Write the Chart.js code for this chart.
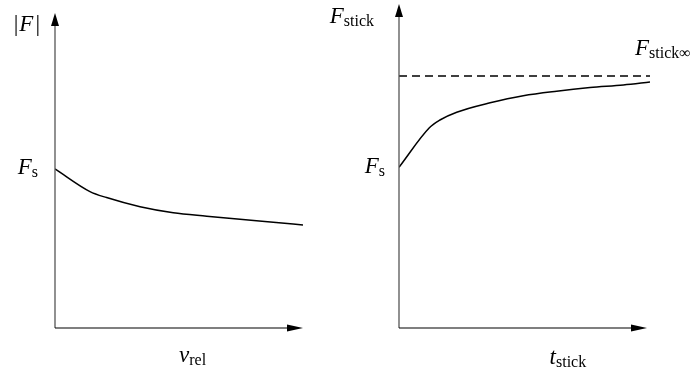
<!DOCTYPE html>
<html>
<head>
<meta charset="utf-8">
<script src="https://cdn.jsdelivr.net/npm/chart.js@4"></script>
<style>
    html, body { margin: 0; padding: 0; background: #fff; }
    #wrap { position: relative; width: 694px; height: 372px; overflow: hidden; }
    canvas { position: absolute; top: 0; }
</style>
</head>
<body>
<div id="wrap">
    <canvas id="frictionChart" width="320" height="372" style="left:0"></canvas>
    <canvas id="stickChart" width="374" height="372" style="left:320px"></canvas>
</div>
<script>
// left panel: |F| against v_rel (schematic units 0..10)
const velX = [0, 1.41, 2.08, 3.43, 4.77, 6.12, 7.46, 8.8, 10];
const forceY = [5.05, 4.33, 4.14, 3.85, 3.66, 3.55, 3.45, 3.36, 3.27];

// right panel: F_stick against t_stick
const stickT = [0, 1.21, 1.63, 2.3, 3.63, 4.95, 6.28, 7.61, 8.94, 10];
const stickF = [4.96, 6.18, 6.42, 6.66, 6.95, 7.17, 7.31, 7.42, 7.5, 7.59];
const stickInfT = [0, 10];
const stickInf = 7.78;

const SERIF = '"Liberation Serif", "Times New Roman", serif';

// draws something like F_s : italic main letter, upright subscript
function drawSym(ctx, parts, x, y, align) {
    const fontOf = p => p.sub ? `16px ${SERIF}` : `${p.italic ? 'italic ' : ''}23px ${SERIF}`;
    let total = 0;
    parts.forEach(p => { ctx.font = fontOf(p); total += ctx.measureText(p.t).width + (p.gap || 0); });
    let cx = align === 'right' ? x - total : x;
    ctx.fillStyle = '#000';
    ctx.textBaseline = 'alphabetic';
    ctx.textAlign = 'left';
    parts.forEach(p => {
        ctx.font = fontOf(p);
        ctx.fillText(p.t, cx, y + (p.sub ? 3 : 0));
        cx += ctx.measureText(p.t).width + (p.gap || 0);
    });
}

function makeAxesPlugin(id, tipInset, drawLabels) {
    return {
        id: id,
        afterDraw(chart) {
            const ctx = chart.ctx;
            const a = chart.chartArea;
            ctx.save();
            // vertical axis with arrow
            ctx.strokeStyle = '#555';
            ctx.lineWidth = 1.3;
            ctx.beginPath();
            ctx.moveTo(a.left, a.bottom);
            ctx.lineTo(a.left, a.top + 8);
            ctx.stroke();
            ctx.fillStyle = '#000';
            ctx.beginPath();
            ctx.moveTo(a.left, a.top);
            ctx.lineTo(a.left - 4, a.top + 13);
            ctx.lineTo(a.left + 4, a.top + 13);
            ctx.closePath();
            ctx.fill();
            // horizontal axis with arrow
            const tip = a.right - tipInset;
            ctx.strokeStyle = '#000';
            ctx.lineWidth = 1.2;
            ctx.beginPath();
            ctx.moveTo(a.left, a.bottom);
            ctx.lineTo(tip - 10, a.bottom);
            ctx.stroke();
            ctx.beginPath();
            ctx.moveTo(tip, a.bottom);
            ctx.lineTo(tip - 16, a.bottom - 3.5);
            ctx.lineTo(tip - 16, a.bottom + 3.5);
            ctx.closePath();
            ctx.fill();
            drawLabels(chart, ctx, a);
            ctx.restore();
        }
    };
}

function baseOptions(padding) {
    return {
        responsive: false,
        animation: false,
        events: [],
        layout: { padding: padding },
        scales: {
            x: { type: 'linear', min: 0, max: 10, display: false },
            y: { type: 'linear', min: 0, max: 10, display: false }
        },
        plugins: { legend: { display: false }, tooltip: { enabled: false } }
    };
}

const curveStyle = {
    borderColor: '#000',
    borderWidth: 1.5,
    pointRadius: 0,
    cubicInterpolationMode: 'monotone',
    fill: false
};

new Chart(document.getElementById('frictionChart'), {
    type: 'line',
    data: {
        datasets: [{
            ...curveStyle,
            data: velX.map((v, i) => ({ x: v, y: forceY[i] }))
        }]
    },
    options: baseOptions({ left: 55, right: 17, top: 13, bottom: 44 }),
    plugins: [makeAxesPlugin('frictionAxes', 0, (chart, ctx, a) => {
        const y = chart.scales.y;
        drawSym(ctx, [{ t: '|', gap: 1 }, { t: 'F', italic: true, gap: 2 }, { t: '|' }], a.left - 15, a.top + 18, 'right');
        drawSym(ctx, [{ t: 'F', italic: true }, { t: 's', sub: true }], a.left - 17, y.getPixelForValue(forceY[0]) + 5, 'right');
        drawSym(ctx, [{ t: 'v', italic: true }, { t: 'rel', sub: true }], a.left + 0.5 * (a.right - a.left), a.bottom + 34, 'left');
    })]
});

new Chart(document.getElementById('stickChart'), {
    type: 'line',
    data: {
        datasets: [{
            ...curveStyle,
            data: stickT.map((t, i) => ({ x: t, y: stickF[i] }))
        }, {
            borderColor: '#000',
            borderWidth: 1.4,
            borderDash: [8, 5],
            pointRadius: 0,
            fill: false,
            data: stickInfT.map(t => ({ x: t, y: stickInf }))
        }]
    },
    options: baseOptions({ left: 79, right: 44, top: 4, bottom: 44 }),
    plugins: [makeAxesPlugin('stickAxes', 3, (chart, ctx, a) => {
        const y = chart.scales.y;
        drawSym(ctx, [{ t: 'F', italic: true }, { t: 'stick', sub: true }], a.left - 25, a.top + 19, 'right');
        drawSym(ctx, [{ t: 'F', italic: true }, { t: 's', sub: true }], a.left - 14, y.getPixelForValue(stickF[0]) + 6, 'right');
        drawSym(ctx, [{ t: 'F', italic: true }, { t: 'stick\u221E', sub: true }], a.right - 15, y.getPixelForValue(stickInf) - 21, 'left');
        drawSym(ctx, [{ t: 't', italic: true }, { t: 'stick', sub: true }], a.left + 0.6 * (a.right - a.left), a.bottom + 36, 'left');
    })]
});
</script>
</body>
</html>
